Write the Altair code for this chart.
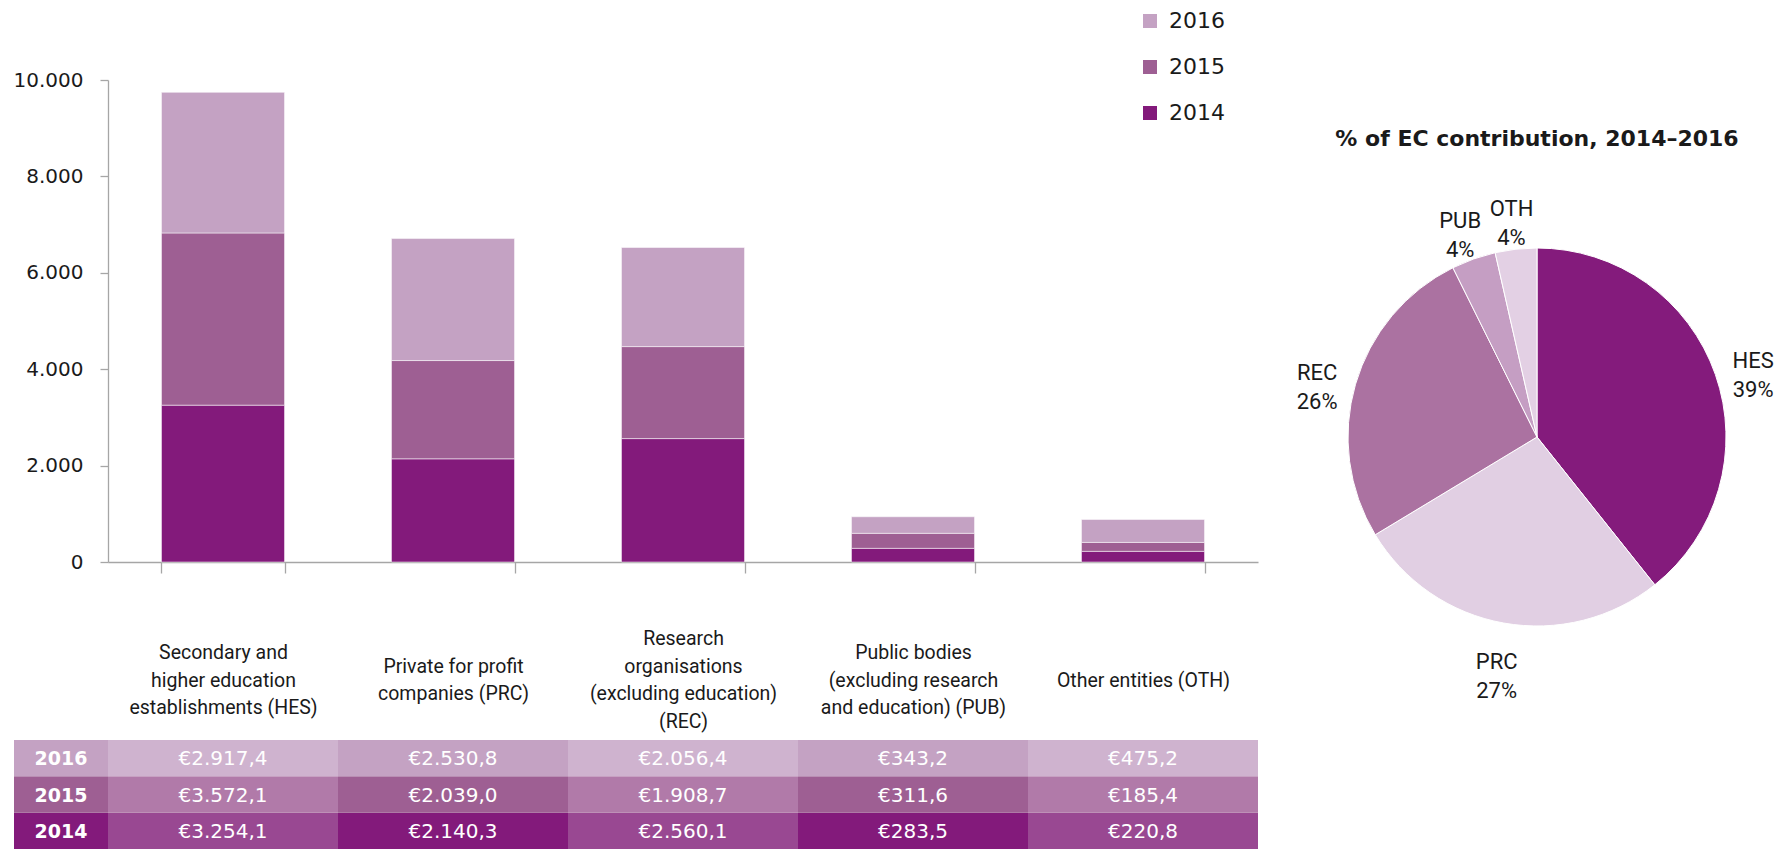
import json
import altair as alt
import pandas as pd

# ---------------- data ----------------
categories = ["HES", "PRC", "REC", "PUB", "OTH"]
category_labels = [
    ["Secondary and", "higher education", "establishments (HES)"],
    ["Private for profit", "companies (PRC)"],
    ["Research", "organisations", "(excluding education)", "(REC)"],
    ["Public bodies", "(excluding research", "and education) (PUB)"],
    ["Other entities (OTH)"],
]
years = ["2014", "2015", "2016"]
values_2014 = [3254.1, 2140.3, 2560.1, 283.5, 220.8]
values_2015 = [3572.1, 2039.0, 1908.7, 311.6, 185.4]
values_2016 = [2917.4, 2530.8, 2056.4, 343.2, 475.2]
y_ticks = [0, 2000, 4000, 6000, 8000, 10000]
pie_title = "% of EC contribution, 2014–2016"

# ---------------- styles ----------------
year_colors = {"2016": "#C4A2C3", "2015": "#9E5F93", "2014": "#831A7B"}
cell_colors = {
    "2016-a": "#CFB3CF", "2016-b": "#C4A2C3",
    "2015-a": "#B17AA9", "2015-b": "#9E5F93",
    "2014-a": "#994892", "2014-b": "#831A7B",
}
pie_colors = ["#841B7C", "#E1CFE3", "#AB72A1", "#C59EC3", "#E3D0E4"]
AXIS_GREY = "#A6A6A6"
TEXT = "#1a1a1a"
LINE_H = 27.5
LABEL_CENTRE = 107   # px below the axis line (after the tick) for one-line labels

# ---------------- frames ----------------
series = {"2014": values_2014, "2015": values_2015, "2016": values_2016}
rows = []
for yi, y in enumerate(years):
    for ci, c in enumerate(categories):
        v = series[y][ci]
        txt = "€" + f"{v:,.1f}".replace(",", "#").replace(".", ",").replace("#", ".")
        rows.append({
            "cat": c, "year": y, "value": v, "year_idx": yi,
            "text": txt, "shade": f"{y}-{'a' if ci % 2 == 0 else 'b'}",
        })
df = pd.DataFrame(rows)

totals = [values_2014[i] + values_2015[i] + values_2016[i] for i in range(len(categories))]
grand = sum(totals)
pie_df = pd.DataFrame({
    "cat": categories,
    "total": totals,
    "idx": list(range(len(categories))),
    "label": [f"{c}\n{round(100 * t / grand)}%" for c, t in zip(categories, totals)],
})
year_df = pd.DataFrame({"year": years})

label_expr = json.dumps(dict(zip(categories, category_labels))) + "[datum.value]"

# label blocks are centred vertically: padding depends on the number of lines
by_count = {}
for c, lines in zip(categories, category_labels):
    by_count.setdefault(len(lines), []).append(c)
pad_conditions = [
    {"test": " || ".join(f"datum.value === '{c}'" for c in cats),
     "value": LABEL_CENTRE - (n - 1) * LINE_H / 2}
    for n, cats in sorted(by_count.items()) if n > 1
]
label_padding = {"condition": pad_conditions, "value": LABEL_CENTRE}

# ---------------- bar chart ----------------
bars = alt.Chart(df).mark_bar(stroke="#ffffff", strokeWidth=1, strokeOpacity=0.5).encode(
    x=alt.X(
        "cat:N", sort=categories, title=None,
        scale=alt.Scale(paddingInner=0.465, paddingOuter=0.2325),
        axis=alt.Axis(
            labelExpr=label_expr, labelAngle=0, labelFont="Roboto", labelFontSize=19.5,
            labelColor=TEXT, labelBaseline="middle", labelPadding=label_padding,
            labelLineHeight=LINE_H, labelLimit=0, labelOverlap=False, tickBand="extent",
            tickSize=11, tickColor=AXIS_GREY, domainColor=AXIS_GREY, domainWidth=1.3,
            tickWidth=1.3,
        ),
    ),
    y=alt.Y(
        "value:Q", stack="zero", title=None,
        scale=alt.Scale(domain=[0, 10000], nice=False),
        axis=alt.Axis(
            values=y_ticks, format=",d", labelExpr="replace(datum.label, ',', '.')",
            labelFont="DejaVu Sans", labelFontSize=20, labelColor=TEXT, labelPadding=17,
            tickSize=8, tickColor=AXIS_GREY, domainColor=AXIS_GREY, domainWidth=1.3,
            tickWidth=1.3, grid=False,
        ),
    ),
    color=alt.Color(
        "year:N",
        scale=alt.Scale(domain=list(year_colors.keys()), range=list(year_colors.values())),
        legend=alt.Legend(
            orient="none", legendX=1031, legendY=-70, title=None, symbolType="square",
            symbolSize=196, symbolStrokeWidth=0, labelFont="DejaVu Sans", labelFontSize=22,
            labelColor=TEXT, labelOffset=8, rowPadding=24, padding=0,
        ),
    ),
    order=alt.Order("year_idx:Q", sort="ascending"),
).properties(width=1150, height=482)

# ---------------- table ----------------
row_order = ["2016", "2015", "2014"]
cells = alt.Chart(df).encode(
    x=alt.X("cat:N", sort=categories, axis=None,
            scale=alt.Scale(paddingInner=0, paddingOuter=0)),
    y=alt.Y("year:N", sort=row_order, axis=None,
            scale=alt.Scale(paddingInner=0, paddingOuter=0)),
)
cell_rects = cells.mark_rect().encode(
    color=alt.Color("shade:N", legend=None,
                    scale=alt.Scale(domain=list(cell_colors.keys()),
                                    range=list(cell_colors.values())))
)
cell_text = cells.mark_text(font="DejaVu Sans", fontSize=20, color="#FFFFFF", dy=1).encode(
    text="text:N"
)
table = (cell_rects + cell_text).properties(width=1150, height=109)

head = alt.Chart(year_df).encode(
    y=alt.Y("year:N", sort=row_order, axis=None,
            scale=alt.Scale(paddingInner=0, paddingOuter=0)),
)
head_rects = head.mark_rect().encode(
    color=alt.Color("year:N", legend=None,
                    scale=alt.Scale(domain=list(year_colors.keys()),
                                    range=list(year_colors.values())))
)
head_text = head.mark_text(font="DejaVu Sans", fontSize=19, fontWeight="bold",
                           color="#FFFFFF", dy=1).encode(text="year:N")
header = (head_rects + head_text).properties(width=94, height=109)

# empty cell above the table's year column (the y-axis labels sit here)
corner = alt.Chart(year_df).mark_text().encode(text=alt.value("")).properties(
    width=94, height=482)

left = alt.concat(
    corner, bars, header, table, columns=2,
    spacing={"row": 178, "column": 0}, bounds="flush",
).resolve_scale(x="independent", y="independent", color="independent")

# ---------------- pie ----------------
pie_base = alt.Chart(pie_df).encode(
    theta=alt.Theta("total:Q", stack=True),
    order=alt.Order("idx:Q", sort="ascending"),
)
arcs = pie_base.mark_arc(outerRadius=189, stroke="#ffffff", strokeWidth=1).encode(
    color=alt.Color("cat:N", legend=None,
                    scale=alt.Scale(domain=categories, range=pie_colors))
)
pie_labels = pie_base.mark_text(
    radius=229, font="Roboto", fontSize=22, lineHeight=29, lineBreak="\n", color=TEXT
).encode(text="label:N")
pie = (arcs + pie_labels).properties(
    width=480, height=714,
    title=alt.TitleParams(pie_title, font="DejaVu Sans", fontSize=22, fontWeight="bold",
                          color=TEXT, anchor="middle", dy=75),
)

chart = alt.hconcat(left, pie, spacing=38).resolve_scale(
    x="independent", y="independent", color="independent", theta="independent"
).properties(
    padding={"left": 5, "top": 2, "right": 0, "bottom": 0}
).configure_view(stroke=None)

chart.save("out.html", embed_options={"renderer": "svg", "actions": False})
